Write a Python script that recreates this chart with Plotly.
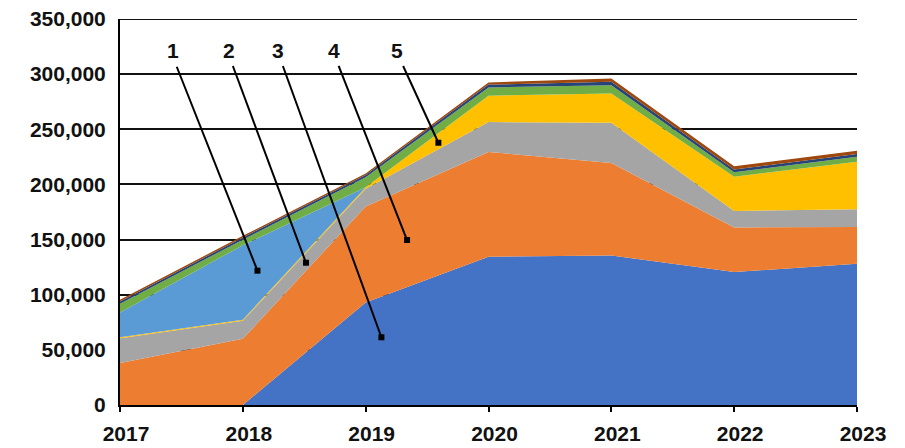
import plotly.graph_objects as go

years = [2017, 2018, 2019, 2020, 2021, 2022, 2023]

s_blue = [0, 0, 93000, 134500, 135500, 120500, 128000]
s_orange = [38000, 60000, 87000, 95000, 84000, 40500, 33500]
s_gray = [22500, 16500, 16000, 27000, 36500, 15000, 16000]
s_yellow = [900, 900, 1500, 24000, 26500, 31000, 43000]
s_lightblue = [22500, 67500, 0, 0, 0, 0, 0]
s_green = [8000, 5000, 9000, 7500, 7500, 4000, 4500]
s_navy = [2000, 2000, 2000, 2500, 3000, 2500, 2500]
s_brown = [1500, 1500, 1500, 2000, 3000, 3000, 3000]

series = [
    ("A", s_blue, "#4472C4"),
    ("B", s_orange, "#ED7D31"),
    ("C", s_gray, "#A5A5A5"),
    ("D", s_yellow, "#FFC000"),
    ("E", s_lightblue, "#5B9BD5"),
    ("F", s_green, "#70AD47"),
    ("G", s_navy, "#264478"),
    ("H", s_brown, "#9E480E"),
]

y_ticks = [0, 50000, 100000, 150000, 200000, 250000, 300000, 350000]
y_ticktext = ["0", "50,000", "100,000", "150,000", "200,000", "250,000", "300,000", "350,000"]

# callout labels: text position, leader line start, leader line end (dot)
callout_labels = ["1", "2", "3", "4", "5"]
label_x = [2017.435, 2017.889, 2018.286, 2018.739, 2019.256]
label_y = [321000, 321000, 321000, 321000, 321000]
line_x0 = [2017.462, 2017.919, 2018.326, 2018.780, 2019.305]
line_y0 = [306700, 307400, 307400, 307400, 307400]
dot_x = [2018.119, 2018.514, 2019.128, 2019.337, 2019.592]
dot_y = [121800, 129000, 61400, 149600, 237800]

fig = go.Figure()
for name, vals, col in series:
    fig.add_trace(go.Scatter(
        x=years, y=vals, name=name, mode="lines", stackgroup="one",
        line=dict(width=0, color=col), fillcolor=col, hoverinfo="skip",
    ))

fig.add_trace(go.Scatter(
    x=dot_x, y=dot_y, mode="markers",
    marker=dict(symbol="square", size=6, color="black"), hoverinfo="skip",
))

# top gridline (at the range edge)
fig.add_shape(type="line", xref="paper", x0=0, x1=1, yref="y", y0=y_ticks[-1], y1=y_ticks[-1],
              line=dict(color="#111", width=2), layer="below")

for i in range(len(callout_labels)):
    fig.add_shape(type="line", x0=line_x0[i], y0=line_y0[i], x1=dot_x[i], y1=dot_y[i],
                  xref="x", yref="y", line=dict(color="black", width=2), layer="above")
    fig.add_annotation(x=label_x[i], y=label_y[i], text="<b>" + callout_labels[i] + "</b>",
                       showarrow=False,
                       font=dict(family="Liberation Sans, Arial", size=21, color="#111"),
                       xanchor="center", yanchor="middle")

fig.update_layout(
    width=905, height=448,
    margin=dict(l=120, r=48, t=19, b=43),
    paper_bgcolor="white", plot_bgcolor="white",
    showlegend=False,
    font=dict(family="Liberation Sans, Arial", size=20, color="#111"),
)
fig.update_xaxes(
    range=[2017, 2023], tickvals=years, ticktext=[str(y) for y in years],
    showgrid=False, zeroline=False, showline=True, linecolor="black", linewidth=2,
    ticks="outside", ticklen=5, tickwidth=2, tickcolor="black",
    tickfont=dict(family="Liberation Sans, Arial", size=21, color="#111", weight="bold"),
    ticklabelshift=6, ticklabelstandoff=4, automargin=False,
)
fig.update_yaxes(
    range=[0, 350000], tickvals=y_ticks, ticktext=y_ticktext,
    showgrid=True, gridcolor="#111", gridwidth=2, zeroline=False,
    showline=True, linecolor="black", linewidth=2, ticks="",
    tickfont=dict(family="Liberation Sans, Arial", size=21, color="#111", weight="bold"),
    ticklabelstandoff=8, automargin=False,
)

fig.write_html("out.html")
